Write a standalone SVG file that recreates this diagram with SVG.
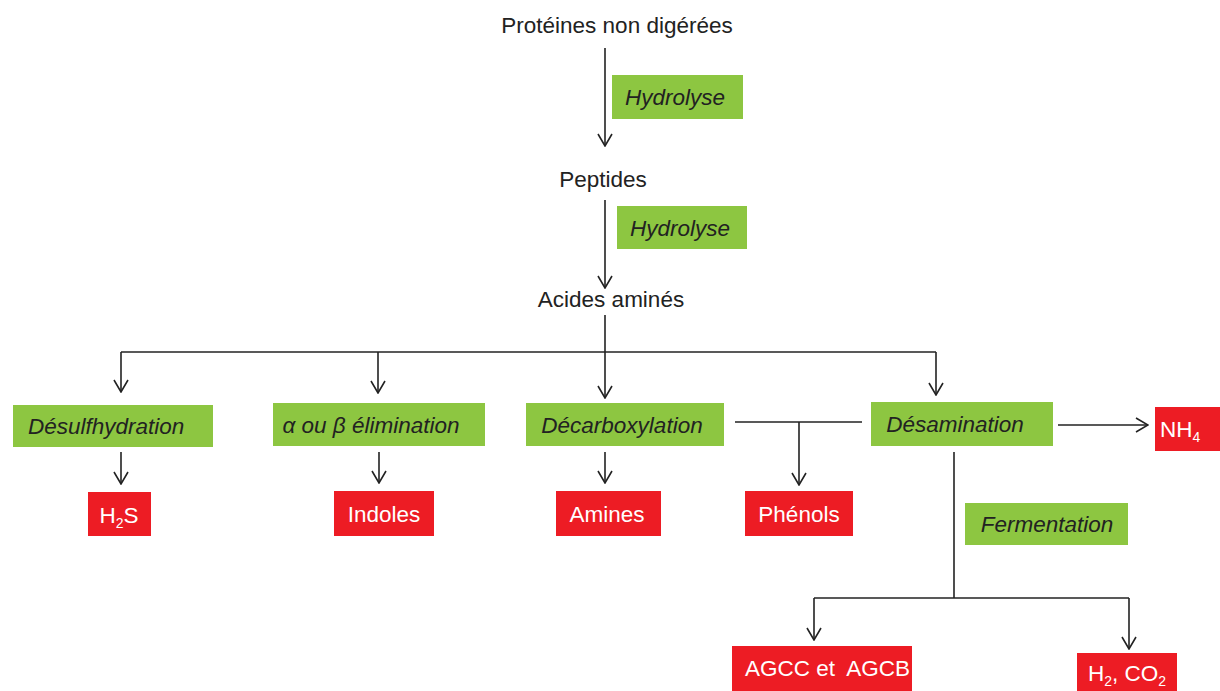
<svg xmlns="http://www.w3.org/2000/svg" width="1220" height="691" viewBox="0 0 1220 691">
<defs>
<marker id="arr" viewBox="0 0 14 16" refX="13" refY="8" markerWidth="14" markerHeight="16" markerUnits="userSpaceOnUse" orient="auto">
<path d="M1,1 L13,8 L1,15" fill="none" stroke="#222" stroke-width="1.6"/>
</marker>
<style>
.t{font-family:"Liberation Sans",Arial,sans-serif;font-size:22.5px;fill:#222}
.g{fill:#8DC641}
.r{fill:#ED1C24}
.gt{font-family:"Liberation Sans",Arial,sans-serif;font-size:22.5px;font-style:italic;fill:#222}
.rt{font-family:"Liberation Sans",Arial,sans-serif;font-size:22.5px;fill:#fff}
.sub{font-size:14px}
.c line{stroke:#222;stroke-width:1.6;fill:none}
</style>
</defs>
<rect width="1220" height="691" fill="#fff"/>
<g id="n-proteines"><text class="t" x="617" y="33" text-anchor="middle">Protéines non digérées</text></g>
<g id="n-hydrolyse1"><rect class="g" x="612" y="75" width="131" height="44"/><text class="gt" x="675" y="105" text-anchor="middle">Hydrolyse</text></g>
<g id="n-peptides"><text class="t" x="603" y="187" text-anchor="middle">Peptides</text></g>
<g id="n-hydrolyse2"><rect class="g" x="617" y="206" width="130" height="43"/><text class="gt" x="680" y="236" text-anchor="middle">Hydrolyse</text></g>
<g id="n-acides"><text class="t" x="611" y="307" text-anchor="middle">Acides aminés</text></g>
<g id="n-desulf"><rect class="g" x="13" y="405" width="200" height="42"/><text class="gt" x="28" y="434">Désulfhydration</text></g>
<g id="n-elim"><rect class="g" x="273" y="403" width="212" height="43"/><text class="gt" x="371" y="433" text-anchor="middle">α ou β élimination</text></g>
<g id="n-decarb"><rect class="g" x="526" y="403" width="198" height="43"/><text class="gt" x="622" y="433" text-anchor="middle">Décarboxylation</text></g>
<g id="n-desam"><rect class="g" x="871" y="402" width="182" height="44"/><text class="gt" x="955" y="432" text-anchor="middle">Désamination</text></g>
<g id="n-nh4"><rect class="r" x="1155" y="407" width="65" height="44"/><text class="rt" x="1160" y="437">NH<tspan class="sub" dy="5">4</tspan></text></g>
<g id="n-h2s"><rect class="r" x="88" y="492" width="63" height="44"/><text class="rt" x="119" y="523" text-anchor="middle">H<tspan class="sub" dy="5">2</tspan><tspan dy="-5">S</tspan></text></g>
<g id="n-indoles"><rect class="r" x="334" y="491" width="100" height="45"/><text class="rt" x="384" y="522" text-anchor="middle">Indoles</text></g>
<g id="n-amines"><rect class="r" x="556" y="491" width="105" height="45"/><text class="rt" x="607" y="522" text-anchor="middle">Amines</text></g>
<g id="n-phenols"><rect class="r" x="745" y="491" width="108" height="45"/><text class="rt" x="799" y="522" text-anchor="middle">Phénols</text></g>
<g id="n-ferm"><rect class="g" x="965" y="503" width="163" height="42"/><text class="gt" x="1047" y="532" text-anchor="middle">Fermentation</text></g>
<g id="n-agcc"><rect class="r" x="732" y="646" width="180" height="45"/><text class="rt" x="745" y="676" xml:space="preserve">AGCC et  AGCB</text></g>
<g id="n-h2co2"><rect class="r" x="1077" y="653" width="100" height="38"/><text class="rt" x="1088" y="681">H<tspan class="sub" dy="5">2</tspan><tspan dy="-5">, CO</tspan><tspan class="sub" dy="5">2</tspan></text></g>
<g id="connectors" class="c">
<line x1="605" y1="48" x2="605" y2="146" marker-end="url(#arr)"/>
<line x1="605" y1="200" x2="605" y2="288" marker-end="url(#arr)"/>
<line x1="605" y1="315" x2="605" y2="398" marker-end="url(#arr)"/>
<line x1="121" y1="352" x2="936" y2="352"/>
<line x1="121" y1="352" x2="121" y2="392" marker-end="url(#arr)"/>
<line x1="936" y1="352" x2="936" y2="395" marker-end="url(#arr)"/>
<line x1="378" y1="352" x2="378" y2="393" marker-end="url(#arr)"/>
<line x1="121" y1="452" x2="121" y2="484" marker-end="url(#arr)"/>
<line x1="379" y1="452" x2="379" y2="483" marker-end="url(#arr)"/>
<line x1="605" y1="452" x2="605" y2="483" marker-end="url(#arr)"/>
<line x1="735" y1="422" x2="862" y2="422"/>
<line x1="799" y1="422" x2="799" y2="485" marker-end="url(#arr)"/>
<line x1="1058" y1="425" x2="1148" y2="425" marker-end="url(#arr)"/>
<line x1="954" y1="452" x2="954" y2="598"/>
<line x1="814" y1="598" x2="1129" y2="598"/>
<line x1="814" y1="598" x2="814" y2="640" marker-end="url(#arr)"/>
<line x1="1129" y1="598" x2="1129" y2="649" marker-end="url(#arr)"/>
</g>
</svg>
